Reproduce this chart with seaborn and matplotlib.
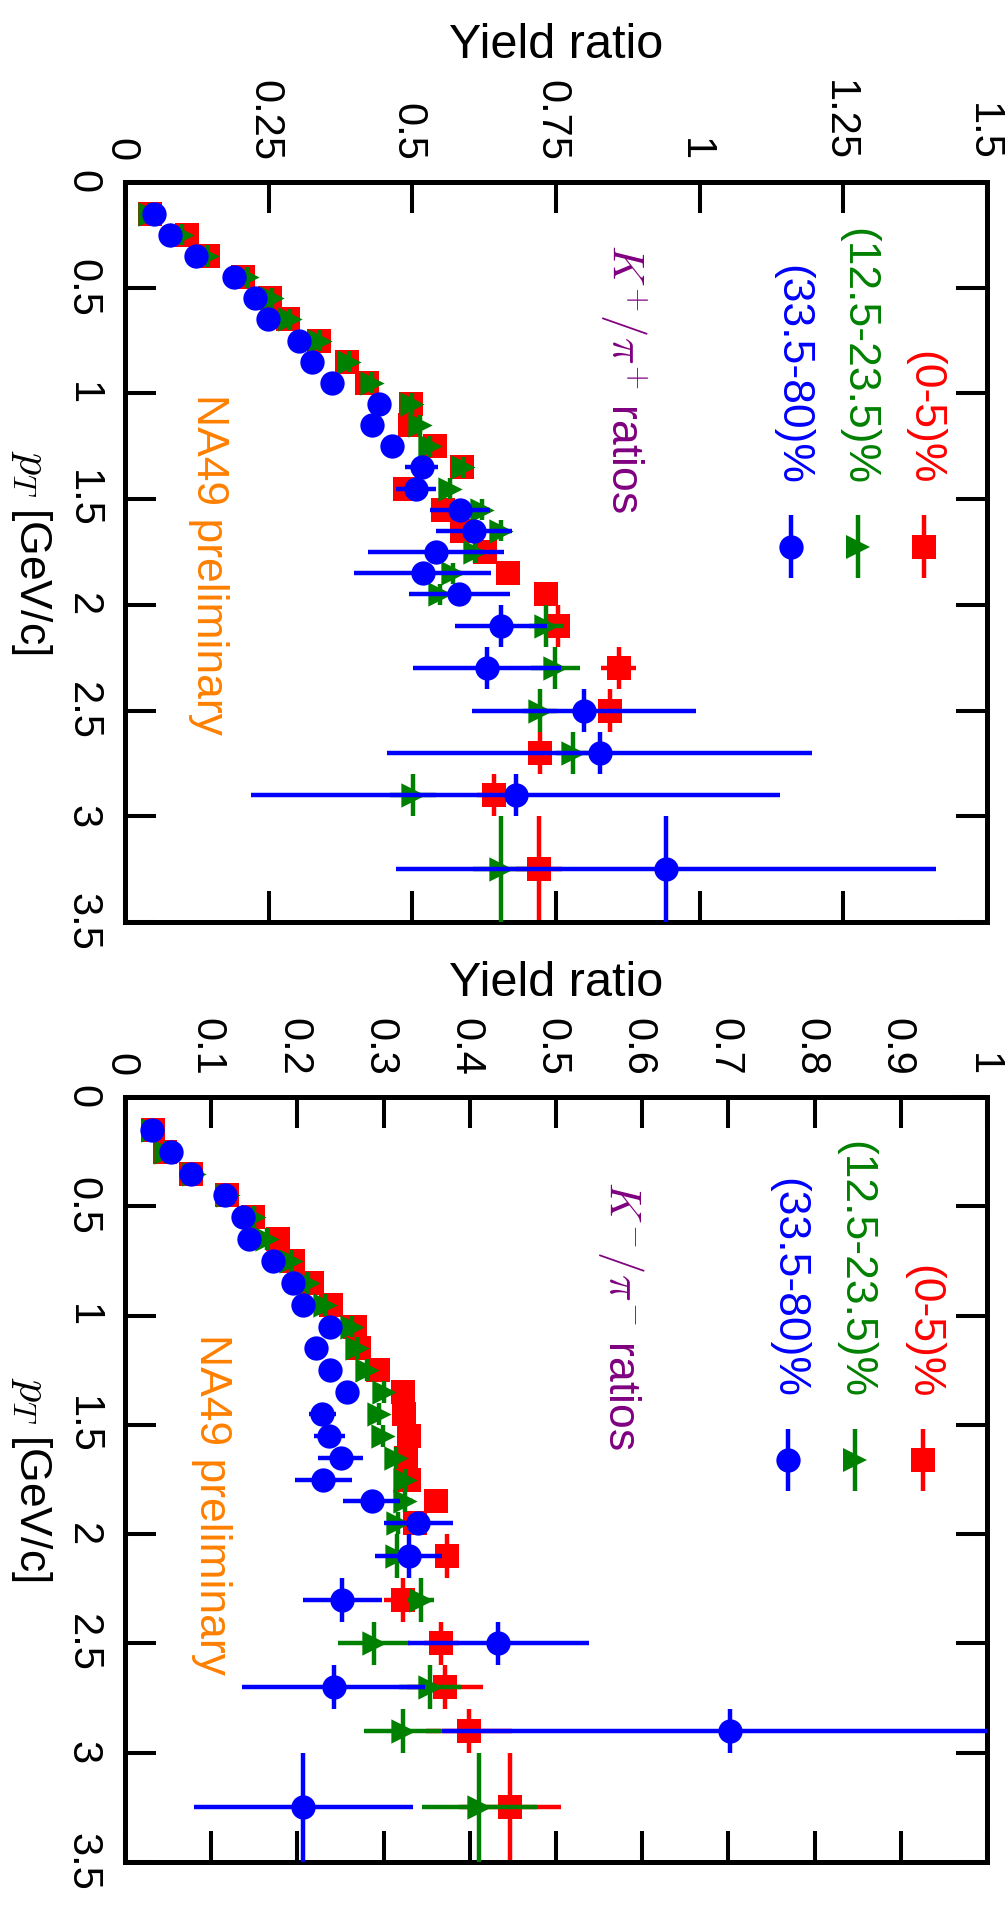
import matplotlib
matplotlib.use("Agg")
import matplotlib.pyplot as plt
import matplotlib.font_manager as fm
import seaborn as sns
import pandas as pd

# ---------------- data ----------------
pt = [0.15, 0.25, 0.35, 0.45, 0.55, 0.65, 0.75, 0.85, 0.95, 1.05, 1.15, 1.25, 1.35,
      1.45, 1.55, 1.65, 1.75, 1.85, 1.95, 2.1, 2.3, 2.5, 2.7, 2.9, 3.25]
pt_err = [0.05] * 19 + [0.1] * 5 + [0.25]

# K+/pi+  (top panel)
kp_c0 = [0.044, 0.108, 0.144, 0.205, 0.253, 0.284, 0.338, 0.387, 0.421, 0.497, 0.496, 0.539, 0.586,
         0.487, 0.554, 0.587, 0.626, 0.667, 0.733, 0.754, 0.859, 0.844, 0.722, 0.642, 0.720]
kp_c0_err = [0.004, 0.005, 0.005, 0.005, 0.006, 0.006, 0.006, 0.007, 0.007, 0.008, 0.008, 0.009, 0.010,
             0.010, 0.011, 0.012, 0.013, 0.014, 0.015, 0.015, 0.030, 0.020, 0.020, 0.030, 0.040]
kp_c1 = [0.044, 0.100, 0.142, 0.212, 0.255, 0.287, 0.339, 0.389, 0.429, 0.499, 0.513, 0.531, 0.588,
         0.566, 0.621, 0.654, 0.609, 0.571, 0.548, 0.733, 0.749, 0.722, 0.780, 0.502, 0.655]
kp_c1_err = [0.004, 0.005, 0.005, 0.005, 0.006, 0.006, 0.006, 0.007, 0.007, 0.008, 0.008, 0.009, 0.010,
             0.010, 0.012, 0.013, 0.014, 0.015, 0.016, 0.030, 0.043, 0.030, 0.030, 0.040, 0.050]
kp_c2 = [0.050, 0.079, 0.124, 0.190, 0.227, 0.248, 0.302, 0.325, 0.361, 0.442, 0.430, 0.465, 0.516,
         0.506, 0.583, 0.607, 0.541, 0.518, 0.582, 0.655, 0.630, 0.799, 0.826, 0.680, 0.941]
kp_c2_err = [0.005, 0.006, 0.006, 0.007, 0.008, 0.009, 0.010, 0.011, 0.012, 0.014, 0.015, 0.017, 0.029,
             0.035, 0.053, 0.066, 0.119, 0.119, 0.088, 0.080, 0.128, 0.195, 0.370, 0.460, 0.470]

# K-/pi-  (bottom panel)
km_c0 = [0.032, 0.046, 0.077, 0.118, 0.148, 0.177, 0.195, 0.217, 0.239, 0.267, 0.271, 0.294, 0.323,
         0.324, 0.329, 0.326, 0.329, 0.361, 0.336, 0.374, 0.323, 0.367, 0.371, 0.399, 0.447]
km_c0_err = [0.002, 0.002, 0.003, 0.003, 0.003, 0.004, 0.004, 0.004, 0.005, 0.005, 0.005, 0.006, 0.006,
             0.007, 0.007, 0.008, 0.008, 0.009, 0.009, 0.010, 0.023, 0.020, 0.044, 0.050, 0.059]
km_c1 = [0.033, 0.048, 0.080, 0.120, 0.150, 0.165, 0.192, 0.212, 0.232, 0.263, 0.269, 0.281, 0.300,
         0.295, 0.299, 0.314, 0.325, 0.325, 0.317, 0.316, 0.343, 0.289, 0.354, 0.322, 0.411]
km_c1_err = [0.002, 0.002, 0.003, 0.003, 0.003, 0.004, 0.004, 0.004, 0.005, 0.005, 0.005, 0.006, 0.006,
             0.007, 0.007, 0.008, 0.008, 0.009, 0.009, 0.010, 0.015, 0.042, 0.036, 0.045, 0.067]
km_c2 = [0.031, 0.053, 0.076, 0.116, 0.137, 0.144, 0.172, 0.195, 0.207, 0.238, 0.221, 0.238, 0.257,
         0.229, 0.237, 0.250, 0.230, 0.286, 0.340, 0.329, 0.252, 0.433, 0.242, 0.702, 0.207]
km_c2_err = [0.002, 0.003, 0.003, 0.004, 0.004, 0.005, 0.005, 0.006, 0.006, 0.007, 0.008, 0.009, 0.010,
             0.016, 0.018, 0.026, 0.033, 0.033, 0.040, 0.039, 0.046, 0.105, 0.106, 0.334, 0.127]

centralities = ["(0-5)%", "(12.5-23.5)%", "(33.5-80)%"]
colors = ["#ff0000", "#008000", "#0000ff"]
markers = ["s", ">", "o"]

top_xticks = [0, 0.25, 0.5, 0.75, 1, 1.25, 1.5]
top_xticklabels = ["0", "0.25", "0.5", "0.75", "1", "1.25", "1.5"]
bot_xticks = [0, 0.1, 0.2, 0.3, 0.4, 0.5, 0.6, 0.7, 0.8, 0.9, 1.0]
bot_xticklabels = ["0", "0.1", "0.2", "0.3", "0.4", "0.5", "0.6", "0.7", "0.8", "0.9", "1"]
pt_ticks = [0, 0.5, 1, 1.5, 2, 2.5, 3, 3.5]
pt_ticklabels = ["0", "0.5", "1", "1.5", "2", "2.5", "3", "3.5"]

# ---------------- style ----------------
sns.set_theme(style="white")
names = {f.name for f in fm.fontManager.ttflist}
base = "Liberation Sans" if "Liberation Sans" in names else "DejaVu Sans"
narrow = "Liberation Sans Narrow" if "Liberation Sans Narrow" in names else base
plt.rcParams["font.family"] = [base, "DejaVu Sans"]
plt.rcParams["mathtext.fontset"] = "cm"
plt.rcParams["axes.edgecolor"] = "black"
plt.rcParams["axes.linewidth"] = 3.6

W, H = 1005, 1916
fig = plt.figure(figsize=(W / 100, H / 100), dpi=100, facecolor="white")


def rect(l, t, r, b):
    return [l / W, 1 - b / H, (r - l) / W, (b - t) / H]


ax1 = fig.add_axes(rect(125, 182, 987, 922))
ax2 = fig.add_axes(rect(125, 1097, 987, 1862))

TICK_FS = 30
TXT_FS = 32
MS = 17.5
ELW = 3.2


def draw_series(ax, vals, errs, color, marker, z):
    df = pd.DataFrame({"ratio": vals, "pt": pt})
    ax.errorbar(vals, pt, xerr=errs, yerr=pt_err, fmt="none", ecolor=color,
                elinewidth=ELW, capsize=0, zorder=z)
    sns.scatterplot(data=df, x="ratio", y="pt", marker=marker, color=color,
                    s=MS ** 2, linewidth=0, ax=ax, zorder=z + 0.5, legend=False)


def style_axes(ax, xlim, xticks, xticklabels):
    ax.set_xlim(*xlim)
    ax.set_ylim(3.5, 0)
    ax.set_xticks(xticks)
    ax.set_xticklabels(xticklabels, rotation=-90, rotation_mode="anchor",
                       ha="right", va="center_baseline")
    ax.set_yticks(pt_ticks)
    ax.set_yticklabels(pt_ticklabels, rotation=-90, rotation_mode="anchor",
                       ha="center", va="top")
    ax.tick_params(axis="x", top=True, bottom=True, labeltop=True, labelbottom=False,
                   direction="in", length=22, width=2.9, pad=15, labelsize=TICK_FS, colors="black")
    ax.tick_params(axis="y", left=True, right=True, labelleft=True, labelright=False,
                   direction="in", length=22, width=2.9, pad=16, labelsize=TICK_FS, colors="black")
    ax.xaxis.set_label_position("top")
    ax.set_xlabel("Yield ratio", fontfamily=narrow, fontsize=35, labelpad=16, color="black")
    ax.set_ylabel(r"$p_T$ [GeV/c]", rotation=-90, va="top", fontsize=32, labelpad=6, color="black")
    for s in ax.spines.values():
        s.set_linewidth(3.6)
        s.set_color("black")
    ax.grid(False)


def draw_legend(ax, xs, text_end, mark_y, half):
    for lab, col, mk, x in zip(centralities, colors, markers, xs):
        ax.text(x, 1 - text_end, lab, color=col, rotation=-90, ha="center", va="bottom",
                fontsize=TXT_FS, transform=ax.transAxes)
        ax.plot([x, x], [1 - mark_y - half, 1 - mark_y + half], color=col, lw=ELW,
                transform=ax.transAxes, solid_capstyle="butt")
        ax.plot([x], [1 - mark_y], marker=mk, color=col, ms=MS, mew=0, ls="none",
                transform=ax.transAxes)


# ---------------- top panel: K+/pi+ ----------------
for i, (v, e) in enumerate([(kp_c0, kp_c0_err), (kp_c1, kp_c1_err), (kp_c2, kp_c2_err)]):
    draw_series(ax1, v, e, colors[i], markers[i], 2 + 2 * i)
style_axes(ax1, (0, 1.5), top_xticks, top_xticklabels)
draw_legend(ax1, [0.927, 0.850, 0.773], 0.409, 0.493, 0.0426)
ax1.text(0.578, 1 - 0.266, r"$K^{+}/\pi^{+}$ ratios", color="#800080", rotation=-90,
         ha="center", va="center", fontsize=TXT_FS, transform=ax1.transAxes)
ax1.text(0.097, 1 - 0.517, "NA49 preliminary", color="#ff8000", rotation=-90,
         ha="center", va="center", fontsize=TXT_FS, transform=ax1.transAxes)

# ---------------- bottom panel: K-/pi- ----------------
for i, (v, e) in enumerate([(km_c0, km_c0_err), (km_c1, km_c1_err), (km_c2, km_c2_err)]):
    draw_series(ax2, v, e, colors[i], markers[i], 2 + 2 * i)
style_axes(ax2, (0, 1.0), bot_xticks, bot_xticklabels)
draw_legend(ax2, [0.926, 0.847, 0.769], 0.394, 0.475, 0.0405)
ax2.text(0.575, 1 - 0.286, r"$K^{-}/\pi^{-}$ ratios", color="#800080", rotation=-90,
         ha="center", va="center", fontsize=TXT_FS, transform=ax2.transAxes)
ax2.text(0.100, 1 - 0.533, "NA49 preliminary", color="#ff8000", rotation=-90,
         ha="center", va="center", fontsize=TXT_FS, transform=ax2.transAxes)

fig.savefig("out.png", dpi=100, facecolor="white")
